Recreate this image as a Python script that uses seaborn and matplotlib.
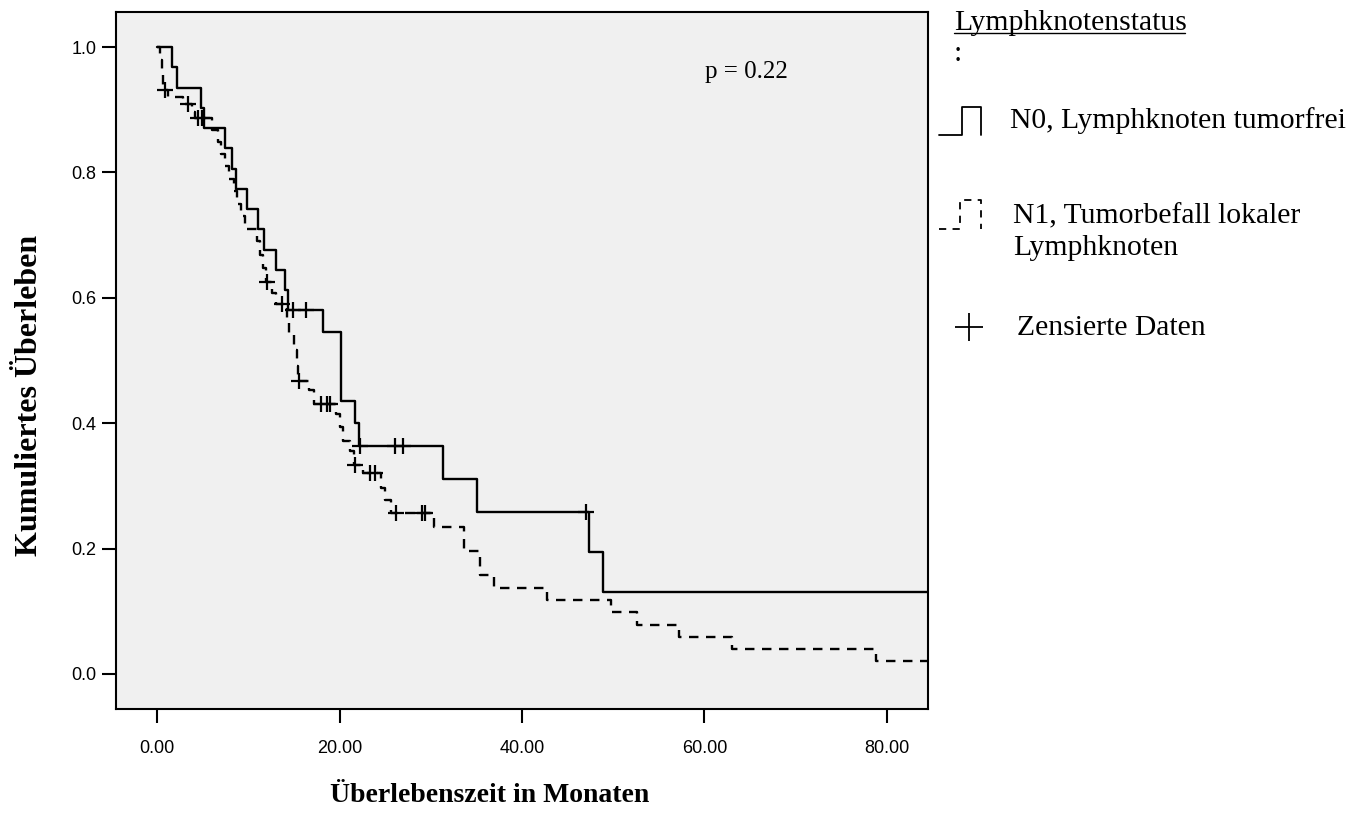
import matplotlib
matplotlib.use("Agg")
import matplotlib.pyplot as plt
import seaborn as sns
import pandas as pd
from matplotlib.lines import Line2D

# Kaplan-Meier steps (time in months, cumulative survival)
n0_time = [0.0, 1.6, 2.2, 4.8, 5.2, 7.4, 8.2, 8.7, 9.9, 11.1, 11.7, 13.0, 14.0, 14.3,
           18.2, 20.2, 21.7, 22.1, 31.3, 35.1, 47.3, 48.9, 84.5]
n0_surv = [1.0, 0.968, 0.935, 0.903, 0.871, 0.839, 0.806, 0.774, 0.742, 0.710, 0.677,
           0.645, 0.613, 0.581, 0.545, 0.436, 0.400, 0.363, 0.311, 0.259, 0.194, 0.130, 0.130]

n1_time = [0.0, 0.3, 0.5, 0.7, 1.2, 2.8, 3.8, 4.2, 6.0, 6.7, 7.0, 7.4, 7.9, 8.4, 8.8,
           9.2, 9.6, 11.0, 11.3, 11.6, 11.9, 12.6, 13.0, 14.2, 14.5, 15.0, 15.3, 15.5,
           16.6, 17.2, 19.6, 20.0, 20.4, 21.2, 21.6, 22.6, 24.6, 25.0, 25.6, 30.3, 33.6,
           35.4, 36.9, 42.7, 49.8, 52.6, 57.2, 63.0, 78.8, 84.5]
n1_surv = [1.0, 0.980, 0.955, 0.932, 0.921, 0.910, 0.897, 0.887, 0.868, 0.849, 0.830,
           0.810, 0.790, 0.770, 0.750, 0.730, 0.710, 0.690, 0.668, 0.648, 0.626, 0.608,
           0.590, 0.566, 0.541, 0.517, 0.492, 0.467, 0.453, 0.431, 0.414, 0.394, 0.372,
           0.356, 0.333, 0.321, 0.297, 0.277, 0.256, 0.235, 0.196, 0.157, 0.137, 0.118,
           0.098, 0.078, 0.059, 0.039, 0.020, 0.020]

# censored observations
n0_cens_time = [14.9, 16.3, 22.2, 26.1, 27.0, 47.0]
n0_cens_surv = [0.581, 0.581, 0.363, 0.363, 0.363, 0.259]
n1_cens_time = [0.9, 3.4, 4.5, 4.9, 12.0, 13.7, 15.6, 18.0, 18.6, 19.0, 21.7, 23.3,
                23.9, 26.2, 29.0, 29.4]
n1_cens_surv = [0.931, 0.910, 0.887, 0.887, 0.626, 0.590, 0.467, 0.431, 0.431, 0.431,
                0.333, 0.321, 0.321, 0.256, 0.256, 0.256]

x_ticks = [0, 20, 40, 60, 80]
x_tick_labels = ["0.00", "20.00", "40.00", "60.00", "80.00"]
y_ticks = [0.0, 0.2, 0.4, 0.6, 0.8, 1.0]
y_tick_labels = ["0.0", "0.2", "0.4", "0.6", "0.8", "1.0"]

legend_title = "Lymphknotenstatus"
group_labels = ["N0, Lymphknoten tumorfrei", "N1, Tumorbefall lokaler\nLymphknoten"]
censor_label = "Zensierte Daten"
p_text = "p = 0.22"
x_label = "Überlebenszeit in Monaten"
y_label = "Kumuliertes Überleben"

sns.set_style("ticks")
plt.rcParams["text.color"] = "black"
plt.rcParams["xtick.color"] = "black"
plt.rcParams["ytick.color"] = "black"
serif = ["Liberation Serif", "DejaVu Serif"]
sans = ["Liberation Sans", "DejaVu Sans"]

W, H = 1357, 824


def fx(px):
    return px / W


def fy(py):
    return 1 - py / H


fig = plt.figure(figsize=(W / 100, H / 100), dpi=100)
ax = fig.add_axes([fx(116), fy(709), fx(928 - 116), (709 - 12) / H])
ax.set_facecolor("#f0f0f0")

curves = pd.DataFrame({
    "time": n0_time + n1_time,
    "surv": n0_surv + n1_surv,
    "group": ["N0"] * len(n0_time) + ["N1"] * len(n1_time),
})
cens = pd.DataFrame({
    "time": n0_cens_time + n1_cens_time,
    "surv": n0_cens_surv + n1_cens_surv,
})

sns.lineplot(data=curves[curves.group == "N0"], x="time", y="surv", ax=ax,
             drawstyle="steps-post", estimator=None, sort=False,
             color="black", lw=1.7)
sns.lineplot(data=curves[curves.group == "N1"], x="time", y="surv", ax=ax,
             drawstyle="steps-post", estimator=None, sort=False,
             color="black", lw=1.7, linestyle=(0, (4.0, 3.2)))
sns.scatterplot(data=cens, x="time", y="surv", ax=ax, marker="+", s=120,
                color="black", linewidth=1.6, zorder=3)

ax.set_xlim(-4.5, 84.5)
ax.set_ylim(-0.056, 1.056)
ax.set_xticks(x_ticks, x_tick_labels, fontfamily=sans, fontsize=13)
ax.set_yticks(y_ticks, y_tick_labels, fontfamily=sans, fontsize=13)
ax.tick_params(axis="both", length=10, width=1.5, color="black", labelcolor="black")
ax.tick_params(axis="x", pad=12)
ax.tick_params(axis="y", pad=4)
ax.set_xlabel("")
ax.set_ylabel("")
for sp in ax.spines.values():
    sp.set_visible(True)
    sp.set_linewidth(1.5)
    sp.set_color("black")

fig.text(fx(746), fy(72), p_text, family=serif, fontsize=18, ha="center", va="center")

fig.text(fx(490), fy(795), x_label, family=serif, fontsize=20, fontweight="bold",
         ha="center", va="center")
fig.text(fx(30), fy(395), y_label, family=serif, fontsize=23, fontweight="bold",
         ha="center", va="center", rotation=90)

# legend drawn beside the axes
fs_leg = 21.3
fig.text(fx(954), fy(30), legend_title, family=serif, fontsize=fs_leg, va="baseline")
fig.add_artist(Line2D([fx(954), fx(1185)], [fy(33), fy(33)], color="black", lw=1.0))
fig.text(fx(954), fy(61), ":", family=serif, fontsize=fs_leg, va="baseline")

fig.add_artist(Line2D([fx(939), fx(962), fx(962), fx(981), fx(981)],
                      [fy(135), fy(135), fy(107), fy(107), fy(135)],
                      color="black", lw=1.3))
fig.text(fx(1010), fy(128), group_labels[0], family=serif, fontsize=fs_leg, va="baseline")

fig.add_artist(Line2D([fx(939), fx(960), fx(960), fx(981), fx(981)],
                      [fy(229), fy(229), fy(200), fy(200), fy(229)],
                      color="black", lw=1.3, linestyle=(0, (4.0, 3.5))))
fig.text(fx(1013), fy(255), group_labels[1], family=serif, fontsize=fs_leg, va="baseline",
         linespacing=1.28)

fig.add_artist(Line2D([fx(969)], [fy(327)], marker="+", markersize=20,
                      markeredgewidth=1.3, color="black", linestyle="none"))
fig.text(fx(1017), fy(335), censor_label, family=serif, fontsize=fs_leg, va="baseline")

plt.savefig("out.png", dpi=100)
